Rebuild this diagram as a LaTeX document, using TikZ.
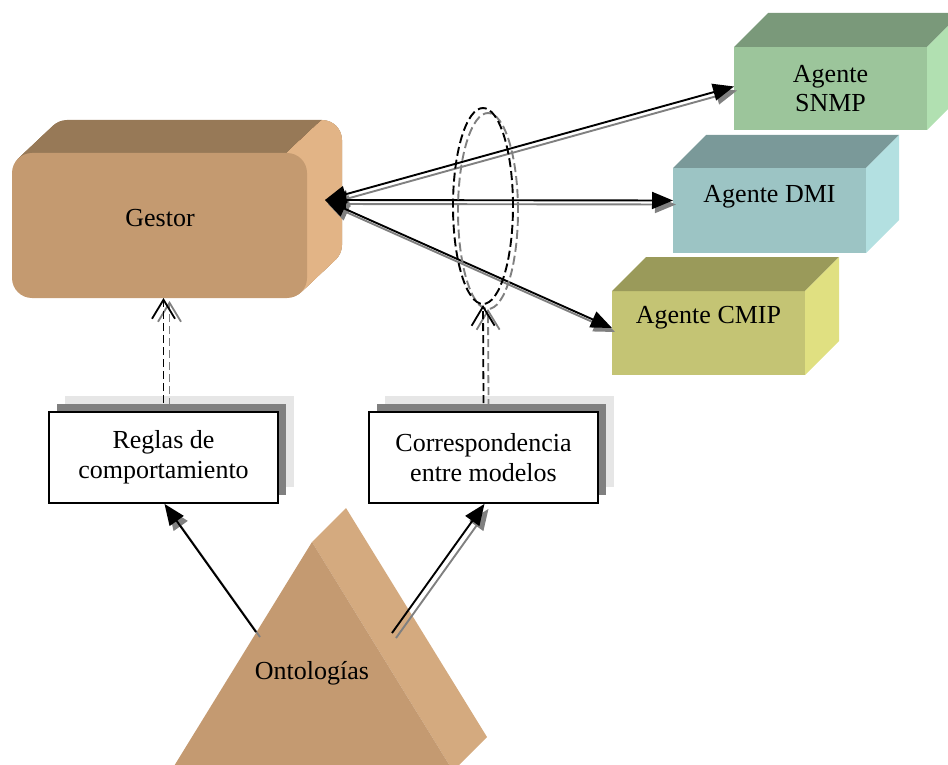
\documentclass[tikz,border=0pt]{standalone}
\usepackage{fontspec}
\setmainfont{Liberation Serif}
\usetikzlibrary{arrows.meta,shadows,shapes.geometric}

\definecolor{gestorfront}{HTML}{C49A70}
\definecolor{gestortop}{HTML}{977957}
\definecolor{gestorside}{HTML}{E2B486}
\definecolor{snmpfront}{HTML}{9CC59B}
\definecolor{snmptop}{HTML}{7A997A}
\definecolor{snmpside}{HTML}{B1E0B1}
\definecolor{dmifront}{HTML}{9CC4C4}
\definecolor{dmitop}{HTML}{7A9999}
\definecolor{dmiside}{HTML}{B3E0E1}
\definecolor{cmipfront}{HTML}{C4C474}
\definecolor{cmiptop}{HTML}{9A9A5A}
\definecolor{cmipside}{HTML}{E0E081}
\definecolor{ontofront}{HTML}{C49A71}
\definecolor{ontoside}{HTML}{D4AA7F}
\definecolor{shadowdark}{HTML}{808080}
\definecolor{shadowlight}{HTML}{E6E6E6}

\begin{document}
\begin{tikzpicture}[x=1pt,y=-1pt,
  txt/.style={font=\fontsize{26}{29.5}\selectfont, align=center, inner sep=0pt},
  face/.style={draw=none, inner sep=0pt, outer sep=0pt, anchor=north west},
  wbox/.style={draw=black, line width=1.8pt, fill=white, inner sep=0pt,
    minimum width=229pt, minimum height=91pt, align=center,
    font=\fontsize{26}{30}\selectfont,
    copy shadow={shadow xshift=16pt, shadow yshift=16pt, fill=shadowlight, draw=none},
    copy shadow={shadow xshift=8pt, shadow yshift=8pt, fill=shadowdark, draw=none}},
  link/.style={line width=1.9pt,
    {Triangle[length=21pt,width=17pt]}-{Triangle[length=21pt,width=17pt]}},
  uplink/.style={line width=1.9pt, -{Triangle[length=21pt,width=17pt]}},
  dlink/.style={line width=1.8pt, dash pattern=on 8pt off 4pt,
    -{Straight Barb[length=19pt,width=23pt]}},
  ring/.style={ellipse, line width=1.9pt, dash pattern=on 9pt off 4pt,
    minimum width=60pt, minimum height=196pt, inner sep=0pt},
  ghost/.style={draw=shadowdark}
]
\useasboundingbox (0,0) rectangle (948,765);

% Gestor: rounded block extruded up and to the right
\foreach \i in {35,...,1}
  \fill[gestortop, rounded corners=20pt] (12+\i,153-0.943*\i) rectangle (307+\i,298-0.943*\i);
\begin{scope}
  \clip (287,153) -- ++(400,-377) -- (1000,800) -- (287,800) -- cycle;
  \foreach \i in {35,...,1}
    \fill[gestorside, rounded corners=20pt] (12+\i,153-0.943*\i) rectangle (307+\i,298-0.943*\i);
\end{scope}
\node[face, fill=gestorfront, rounded corners=20pt, minimum width=295pt, minimum height=145pt] (gestor) at (12,153) {};
\node[txt] (gestorlbl) at (160,218) {Gestor};

% Agent blocks
\node[face, fill=snmpfront, minimum width=193pt, minimum height=83pt] (snmp) at (734,47) {};
\fill[snmptop] (snmp.north west) -- ++(34,-34) -- ([shift={(34,-34)}]snmp.north east) -- (snmp.north east) -- cycle;
\fill[snmpside] (snmp.north east) -- ++(34,-34) -- ([shift={(34,-34)}]snmp.south east) -- (snmp.south east) -- cycle;
\node[txt] (snmplbl) at (snmp.center) {Agente\\SNMP};

\node[face, fill=dmifront, minimum width=193pt, minimum height=85pt] (dmi) at (673,168) {};
\fill[dmitop] (dmi.north west) -- ++(33,-33) -- ([shift={(33,-33)}]dmi.north east) -- (dmi.north east) -- cycle;
\fill[dmiside] (dmi.north east) -- ++(33,-33) -- ([shift={(33,-33)}]dmi.south east) -- (dmi.south east) -- cycle;
\node[txt] (dmilbl) at ([yshift=14pt]dmi.center) {Agente DMI};

\node[face, fill=cmipfront, minimum width=193pt, minimum height=84pt] (cmip) at (612,291) {};
\fill[cmiptop] (cmip.north west) -- ++(34,-34) -- ([shift={(34,-34)}]cmip.north east) -- (cmip.north east) -- cycle;
\fill[cmipside] (cmip.north east) -- ++(34,-34) -- ([shift={(34,-34)}]cmip.south east) -- (cmip.south east) -- cycle;
\node[txt] (cmiplbl) at ([yshift=15pt]cmip.center) {Agente CMIP};

% Ontology pyramid (cut by the lower edge)
\begin{scope}
  \clip (0,0) rectangle (948,765);
  \fill[ontoside] (312,542) -- (346,508) -- (487,737) -- (453,771) -- cycle;
  \fill[ontofront] (312,542) -- (171,771) -- (453,771) -- cycle;
\end{scope}
\node[txt] (onto) at (312,673) {Ontologías};
\coordinate (ontoL) at (256,632);
\coordinate (ontoR) at (392,633);

% Rule and mapping boxes
\node[wbox] (reglas) at (163.5,457.5) {Reglas de\\comportamiento};
\node[wbox] (corr) at (483.5,457.5) {Correspondencia\\entre modelos};

% Links between the manager and the agents
\coordinate (gtip) at (325,200);
\begin{scope}[transform canvas={shift={(3pt,-4pt)}}]
  \draw[link, ghost] (gtip) -- ([yshift=2pt]snmp.west);
  \draw[link, ghost] (gtip) -- ([yshift=10pt]dmi.west);
  \draw[link, ghost] (gtip) -- ([yshift=5pt]cmip.west);
\end{scope}
\draw[link] (gtip) -- ([yshift=2pt]snmp.west);
\draw[link] (gtip) -- ([yshift=10pt]dmi.west);
\draw[link] (gtip) -- ([yshift=5pt]cmip.west);

% Dashed ring around the links
\node[ring, draw=shadowdark] (ringshadow) at (488,211) {};
\node[ring, draw=black] (ring) at (483,206) {};

% Dashed dependencies
\draw[dlink, ghost, transform canvas={shift={(6pt,-3pt)}}] ([yshift=8pt]reglas.north) -- (reglas.north |- gestor.south);
\draw[dlink] ([yshift=8pt]reglas.north) -- (reglas.north |- gestor.south);
\draw[dlink, ghost, transform canvas={shift={(5pt,-4pt)}}] ([yshift=8pt]corr.north) -- (ring.south);
\draw[dlink] ([yshift=8pt]corr.north) -- (ring.south);

% Links from the ontologies
\begin{scope}[transform canvas={shift={(4pt,-5pt)}}]
  \draw[uplink, ghost] (ontoL) -- ([xshift=1pt]reglas.south);
  \draw[uplink, ghost] (ontoR) -- ([xshift=1pt]corr.south);
\end{scope}
\draw[uplink] (ontoL) -- ([xshift=1pt]reglas.south);
\draw[uplink] (ontoR) -- ([xshift=1pt]corr.south);
\end{tikzpicture}
\end{document}
